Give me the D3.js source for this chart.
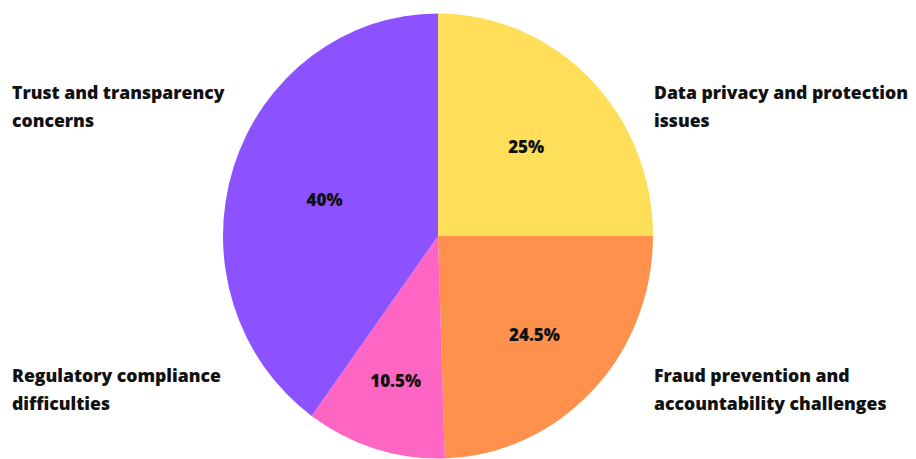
<!DOCTYPE html>
<html><head><meta charset="utf-8">
<script src="https://cdn.jsdelivr.net/npm/d3@7"></script>
<style>
html,body{margin:0;padding:0;background:#fff;}
svg{display:block;}
text{font-family:"Open Sans",sans-serif;font-weight:800;fill:#111;}
</style></head>
<body>
<script>
const categories = ["Data privacy and protection issues","Fraud prevention and accountability challenges","Regulatory compliance difficulties","Trust and transparency concerns"];
const values = [25, 24.5, 10.5, 40];
const valueLabels = ["25%","24.5%","10.5%","40%"];
const colors = ["#FFDE59","#FF914D","#FF66C4","#8C52FF"];
// layout (not data)
const labelRadiusFrac = [0.58, 0.625, 0.67, 0.555];
const sideLabels = [
  {lines:["Data privacy and protection","issues"], x:654, y:99},
  {lines:["Fraud prevention and","accountability challenges"], x:654, y:382},
  {lines:["Regulatory compliance","difficulties"], x:12, y:382},
  {lines:["Trust and transparency","concerns"], x:12, y:99}
];

const W=916,H=459, cx=438, cy=236, R=215, sy=1.035;
const svg=d3.select("body").append("svg").attr("width",W).attr("height",H);

const pie=d3.pie().sort(null).value(d=>d)(values);
const arc=d3.arc().innerRadius(0).outerRadius(R);

svg.append("g").attr("transform",`translate(${cx},${cy}) scale(1,${sy})`)
  .selectAll("path").data(pie).join("path")
  .attr("d",arc).attr("fill",(d,i)=>colors[i]);

pie.forEach((d,i)=>{
  const r=R*labelRadiusFrac[i];
  const c=d3.arc().innerRadius(r).outerRadius(r).centroid(d);
  svg.append("text").attr("x",cx+c[0]).attr("y",cy+c[1]*sy+2)
    .attr("text-anchor","middle").attr("dominant-baseline","central")
    .style("font-size","17px").text(valueLabels[i]);
});

sideLabels.forEach((s,i)=>{
  const t=svg.append("text").attr("x",s.x).attr("y",s.y).style("font-size","17.6px");
  s.lines.forEach((l,j)=>t.append("tspan").attr("x",s.x).attr("dy",j?28:0).text(l));
});
</script>
</body></html>
